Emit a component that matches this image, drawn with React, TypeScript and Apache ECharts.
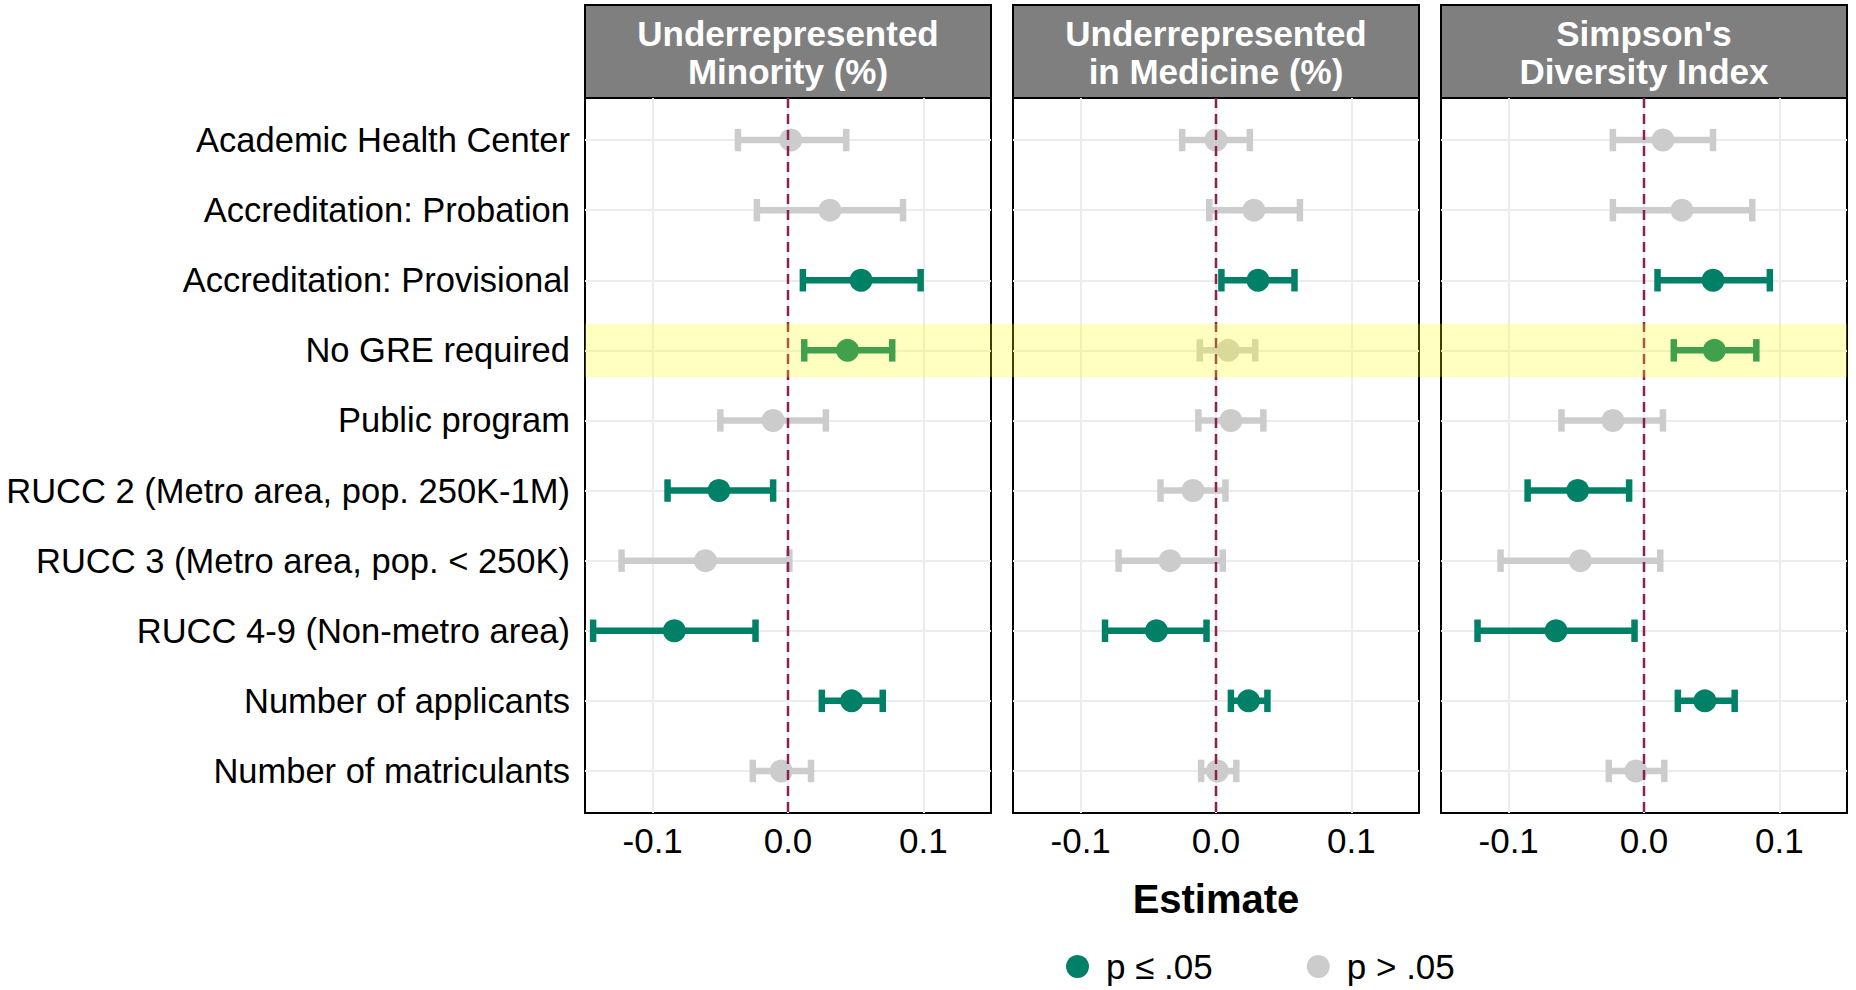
import React, { useEffect, useRef } from "react";
import * as echarts from "echarts";

// Predictors (rows, top to bottom)
const categories = [
  "Academic Health Center",
  "Accreditation: Probation",
  "Accreditation: Provisional",
  "No GRE required",
  "Public program",
  "RUCC 2 (Metro area, pop. 250K-1M)",
  "RUCC 3 (Metro area, pop. < 250K)",
  "RUCC 4-9 (Non-metro area)",
  "Number of applicants",
  "Number of matriculants",
];
const highlightedRow = "No GRE required";

// Facet titles
const outcomeTitles = [
  "Underrepresented\nMinority (%)",
  "Underrepresented\nin Medicine (%)",
  "Simpson's\nDiversity Index",
];

const xTicks = [-0.1, 0, 0.1];
const legendLabels = ["p ≤ .05", "p > .05"];
const xTitle = "Estimate";

// Underrepresented Minority (%)
const urmEst = [0.002, 0.031, 0.054, 0.044, -0.011, -0.051, -0.061, -0.084, 0.047, -0.005];
const urmLow = [-0.037, -0.023, 0.011, 0.012, -0.05, -0.089, -0.123, -0.144, 0.025, -0.026];
const urmHigh = [0.043, 0.085, 0.098, 0.077, 0.028, -0.011, 0.001, -0.024, 0.07, 0.017];
const urmSig = [0, 0, 1, 1, 0, 1, 0, 1, 1, 0];

// Underrepresented in Medicine (%)
const urimEst = [0.0, 0.028, 0.031, 0.009, 0.011, -0.017, -0.034, -0.044, 0.024, 0.001];
const urimLow = [-0.025, -0.005, 0.004, -0.012, -0.013, -0.041, -0.072, -0.082, 0.011, -0.011];
const urimHigh = [0.025, 0.062, 0.058, 0.029, 0.035, 0.007, 0.005, -0.007, 0.038, 0.015];
const urimSig = [0, 0, 1, 0, 0, 0, 0, 1, 1, 0];

// Simpson's Diversity Index
const sdiEst = [0.014, 0.028, 0.051, 0.052, -0.023, -0.049, -0.047, -0.065, 0.045, -0.006];
const sdiLow = [-0.023, -0.023, 0.01, 0.022, -0.061, -0.086, -0.106, -0.123, 0.025, -0.026];
const sdiHigh = [0.051, 0.08, 0.093, 0.083, 0.014, -0.011, 0.012, -0.007, 0.067, 0.015];
const sdiSig = [0, 0, 1, 1, 0, 1, 0, 1, 1, 0];

const panels = [
  { est: urmEst, low: urmLow, high: urmHigh, sig: urmSig },
  { est: urimEst, low: urimLow, high: urimHigh, sig: urimSig },
  { est: sdiEst, low: sdiLow, high: sdiHigh, sig: sdiSig },
];

const FONT = "'Liberation Sans', Arial, Helvetica, sans-serif";
const GREEN = "#008066";
const GREY = "#cccccc";
const ZERO_LINE = "#882255";
const GRID_LINE = "#ececec";

const PANEL_LEFT = [585, 1013, 1441];
const PANEL_W = 406;
const PANEL_TOP = 98;
const PANEL_H = 715;
const STRIP_TOP = 5;
const Y_MIN = -0.6;
const Y_MAX = categories.length - 1 + 0.6;

export default function App() {
  const ref = useRef<HTMLDivElement>(null);

  useEffect(() => {
    if (!ref.current) return;
    const chart = echarts.init(ref.current, undefined, { renderer: "svg" });
    const rows = categories.map((_, i) => i);

    const grids: any[] = PANEL_LEFT.map((left) => ({
      left,
      top: PANEL_TOP,
      width: PANEL_W,
      height: PANEL_H,
      containLabel: false,
      outerBoundsMode: "none",
      show: true,
      backgroundColor: "#ffffff",
      borderColor: "#000000",
      borderWidth: 2,
    }));
    // overlay grid spanning all facets (for the highlighted row)
    grids.push({
      left: PANEL_LEFT[0],
      top: PANEL_TOP,
      width: PANEL_LEFT[2] + PANEL_W - PANEL_LEFT[0],
      height: PANEL_H,
      containLabel: false,
      outerBoundsMode: "none",
      show: false,
    });

    const xAxes: any[] = PANEL_LEFT.map((_, i) => ({
      type: "value",
      gridIndex: i,
      min: -0.15,
      max: 0.15,
      axisLine: { show: false },
      axisTick: { show: false, customValues: xTicks },
      axisLabel: {
        customValues: xTicks,
        formatter: (v: number) => v.toFixed(1),
        fontSize: 35,
        fontFamily: FONT,
        color: "#000",
        margin: 10,
      },
      splitLine: { show: true, lineStyle: { color: GRID_LINE, width: 2 } },
      name: i === 1 ? xTitle : "",
      nameLocation: "middle",
      nameGap: 66,
      nameTextStyle: { fontSize: 40, fontWeight: "bold", fontFamily: FONT, color: "#000" },
    }));
    xAxes.push({ type: "value", gridIndex: 3, min: 0, max: 1, show: false });

    const yAxes: any[] = PANEL_LEFT.map((_, i) => ({
      type: "value",
      gridIndex: i,
      min: Y_MIN,
      max: Y_MAX,
      inverse: true,
      axisLine: { show: false },
      axisTick: { show: false, customValues: rows },
      axisLabel: {
        show: i === 0,
        customValues: rows,
        formatter: (v: number) => categories[Math.round(v)] ?? "",
        fontSize: 34.5,
        fontFamily: FONT,
        color: "#000",
        margin: 15,
      },
      splitLine: { show: true, lineStyle: { color: GRID_LINE, width: 2 } },
    }));
    yAxes.push({ type: "value", gridIndex: 3, min: Y_MIN, max: Y_MAX, inverse: true, show: false });

    const series: any[] = [];
    panels.forEach((p, i) => {
      series.push({
        type: "custom",
        xAxisIndex: i,
        yAxisIndex: i,
        z: 2,
        silent: true,
        encode: { x: [1, 2], y: 0 },
        data: rows.map((r) => [r, p.low[r], p.high[r], p.sig[r]]),
        renderItem: (_params: any, api: any) => {
          const row = api.value(0);
          const a = api.coord([api.value(1), row]);
          const b = api.coord([api.value(2), row]);
          const half = api.size([0, 0.16])[1];
          const style = { stroke: api.value(3) ? GREEN : GREY, lineWidth: 6.5 };
          return {
            type: "group",
            children: [
              { type: "line", shape: { x1: a[0], y1: a[1], x2: b[0], y2: b[1] }, style },
              { type: "line", shape: { x1: a[0], y1: a[1] - half, x2: a[0], y2: a[1] + half }, style },
              { type: "line", shape: { x1: b[0], y1: b[1] - half, x2: b[0], y2: b[1] + half }, style },
            ],
          };
        },
      });
      series.push({
        type: "scatter",
        name: legendLabels[0],
        xAxisIndex: i,
        yAxisIndex: i,
        z: 3,
        symbol: "circle",
        symbolSize: 23,
        itemStyle: { color: GREEN, opacity: 1 },
        data: rows.filter((r) => p.sig[r]).map((r) => [p.est[r], r]),
      });
      series.push({
        type: "scatter",
        name: legendLabels[1],
        xAxisIndex: i,
        yAxisIndex: i,
        z: 3,
        symbol: "circle",
        symbolSize: 23,
        itemStyle: { color: GREY, opacity: 1 },
        data: rows.filter((r) => !p.sig[r]).map((r) => [p.est[r], r]),
      });
      // reference line at zero
      series.push({
        type: "custom",
        xAxisIndex: i,
        yAxisIndex: i,
        z: 4,
        silent: true,
        data: [[0]],
        renderItem: (_params: any, api: any) => {
          const top = api.coord([api.value(0), Y_MIN]);
          const bottom = api.coord([api.value(0), Y_MAX]);
          return {
            type: "line",
            shape: { x1: top[0], y1: top[1], x2: bottom[0], y2: bottom[1] },
            style: { stroke: ZERO_LINE, lineWidth: 2.5, lineDash: [10, 6] },
          };
        },
      });
    });

    // highlighted predictor band across all facets
    series.push({
      type: "custom",
      xAxisIndex: 3,
      yAxisIndex: 3,
      z: 10,
      silent: true,
      data: [[categories.indexOf(highlightedRow)]],
      renderItem: (_params: any, api: any) => {
        const row = api.value(0);
        const p0 = api.coord([0, row - 0.38]);
        const p1 = api.coord([1, row + 0.38]);
        return {
          type: "rect",
          shape: { x: p0[0], y: p0[1], width: p1[0] - p0[0], height: p1[1] - p0[1] },
          style: { fill: "rgba(255,255,0,0.25)" },
        };
      },
    });

    const strips = outcomeTitles.map((title, i) => ({
      type: "group",
      z: 20,
      children: [
        {
          type: "rect",
          shape: { x: PANEL_LEFT[i], y: STRIP_TOP, width: PANEL_W, height: PANEL_TOP - STRIP_TOP },
          style: { fill: "#7f7f7f", stroke: "#000", lineWidth: 2 },
        },
        {
          type: "text",
          x: PANEL_LEFT[i] + PANEL_W / 2,
          y: (STRIP_TOP + PANEL_TOP) / 2 + 1,
          style: {
            text: title,
            fill: "#ffffff",
            font: `bold 35px ${FONT}`,
            lineHeight: 38,
            align: "center",
            verticalAlign: "middle",
          },
        },
      ],
    }));

    chart.setOption({
      animation: false,
      backgroundColor: "#ffffff",
      grid: grids,
      xAxis: xAxes,
      yAxis: yAxes,
      series,
      graphic: { elements: strips },
      legend: {
        data: legendLabels.map((name) => ({ name, icon: "circle" })),
        left: 1061,
        top: 944,
        itemWidth: 23,
        itemHeight: 23,
        itemGap: 94,
        selectedMode: false,
        textStyle: { fontSize: 35, fontFamily: FONT, color: "#000", padding: [0, 0, 0, 12] },
      },
    });

    return () => chart.dispose();
  }, []);

  return (
    <div
      ref={ref}
      style={{ position: "fixed", left: 0, top: 0, width: 1856, height: 990 }}
    />
  );
}
